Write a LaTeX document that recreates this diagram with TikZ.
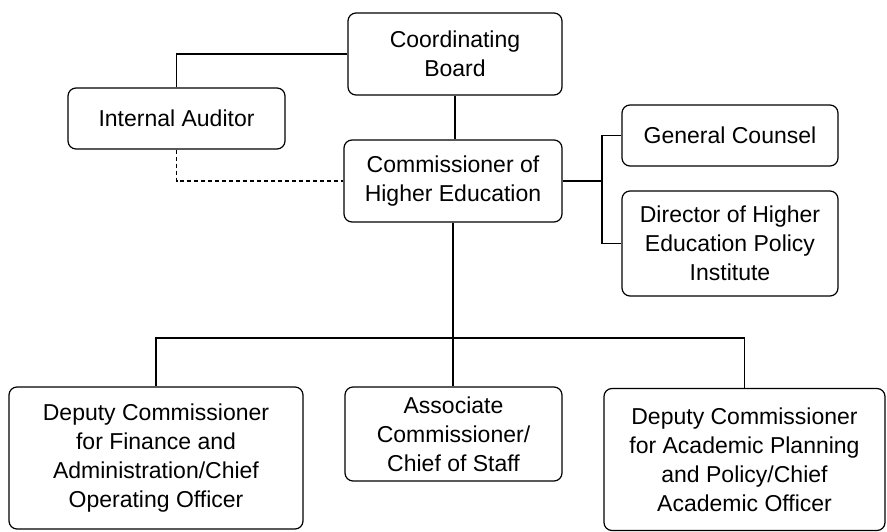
\documentclass[tikz,border=0pt]{standalone}
\usepackage{fontspec}
\setmainfont{Liberation Sans}
\begin{document}
\begin{tikzpicture}[x=1pt,y=-1pt,
  box/.style={draw, line width=1.2pt, rounded corners=8pt, align=center, inner sep=0pt,
    font=\fontsize{23}{29}\selectfont},
  conn/.style={line width=1.2pt}]
\useasboundingbox[fill=white] (0,0) rectangle (887,532);
\node[box, minimum width=214pt, minimum height=82pt] (CB) at (455,54) {Coordinating\\Board};
\node[box, minimum width=217pt, minimum height=61pt] (IA) at (176.5,118.5) {Internal Auditor};
\node[box, minimum width=218pt, minimum height=82pt] (COM) at (453,181) {Commissioner of\\Higher Education};
\node[box, minimum width=216pt, minimum height=61pt] (GC) at (730,135.5) {General Counsel};
\node[box, minimum width=216pt, minimum height=105pt] (DIR) at (730,243.5) {Director of Higher\\Education Policy\\Institute};
\node[box, minimum width=294pt, minimum height=142pt] (DF) at (156,458) {Deputy Commissioner\\for Finance and\\Administration/Chief\\Operating Officer};
\node[box, minimum width=217pt, minimum height=94pt] (AS) at (453.5,434) {Associate\\Commissioner/\\Chief of Staff};
\node[box, minimum width=281pt, minimum height=142pt] (DA) at (744.5,459.5) {Deputy Commissioner\\for Academic Planning\\and Policy/Chief\\Academic Officer};
\coordinate (bx) at (602,179);
\coordinate (bus) at (453,338);
\draw[conn] (IA.north) |- (CB.west);
\draw[conn, dashed, dash pattern=on 4pt off 3pt] (IA.south) |- (COM.west);
\draw[conn] (CB.south) -- (CB.south |- COM.north);
\draw[conn] (COM.east) -- (COM.east -| bx);
\draw[conn] (GC.west) -| (bx) |- (DIR.west);
\draw[conn] (COM.south) -- (COM.south |- AS.north);
\draw[conn] (DF.north) |- (bus) -| (DA.north);
\end{tikzpicture}
\end{document}
